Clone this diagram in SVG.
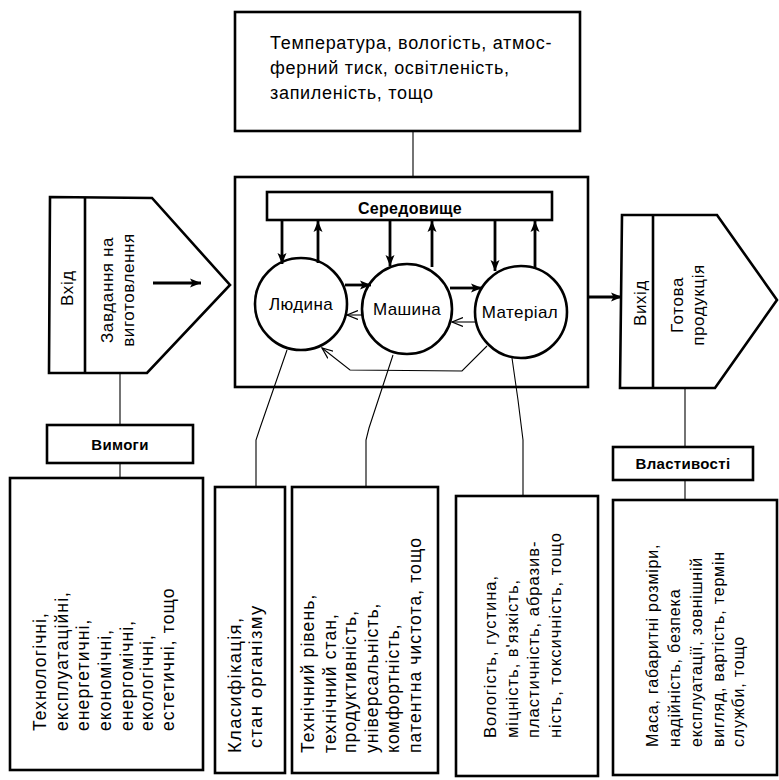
<svg xmlns="http://www.w3.org/2000/svg" width="779" height="780" viewBox="0 0 779 780">
<defs>
<marker id="ah" markerUnits="userSpaceOnUse" markerWidth="12" markerHeight="10" refX="11" refY="5" orient="auto">
<path d="M0,0.5 L11,5 L0,9.5 L2.5,5 Z" fill="#000"/>
</marker>
<marker id="av" markerUnits="userSpaceOnUse" markerWidth="12" markerHeight="10" refX="11" refY="5" orient="auto">
<path d="M0,0.5 L11,5 L0,9.5" fill="none" stroke="#000" stroke-width="1.2"/>
</marker>
</defs>
<style>
.box{fill:#fff;stroke:#000;stroke-width:2.6}
.frame{fill:none;stroke:#000;stroke-width:2.6}
.thick{fill:none;stroke:#000;stroke-width:2.6}
.thin{fill:none;stroke:#000;stroke-width:1.1}
.bold{fill:none;stroke:#000;stroke-width:2.8}
text{font-family:"Liberation Sans",Arial,sans-serif;fill:#000}
.t{font-size:18px;letter-spacing:0.7px}
.c{font-size:17px;letter-spacing:0.4px;text-anchor:middle}
.v{font-size:17.5px;letter-spacing:1.1px}
.vk{font-size:18.5px;letter-spacing:1.3px}
.vs{font-size:16.5px;letter-spacing:1px}
.vx{font-size:16px;letter-spacing:0.8px}
.vm{font-size:17px;letter-spacing:0.6px;text-anchor:middle}
.lbl{font-size:15px;font-weight:bold;text-anchor:middle;letter-spacing:0.3px}
</style>
<rect width="779" height="780" fill="#fff"/>

<g id="environment-top">
<rect class="box" x="235" y="12" width="345" height="119"/>
<text class="t" x="270" y="49">Температура, вологість, атмос-</text>
<text class="t" x="270" y="74">ферний тиск, освітленість,</text>
<text class="t" x="270" y="99">запиленість, тощо</text>
</g>

<g id="system-frame">
<rect class="frame" x="235" y="177" width="353" height="210"/>
</g>

<g id="seredovyshche">
<rect class="box" x="267" y="192" width="285" height="28"/>
<text class="lbl" x="410" y="214" style="font-size:16px">Середовище</text>
</g>

<g id="lyudyna">
<circle class="box" cx="301" cy="304" r="46"/>
<text class="c" x="301" y="310">Людина</text>
</g>
<g id="mashyna">
<circle class="box" cx="407" cy="309" r="45"/>
<text class="c" x="407" y="315">Машина</text>
</g>
<g id="material">
<circle class="box" cx="521" cy="312" r="46"/>
<text class="c" x="520" y="318">Матеріал</text>
</g>

<g id="vhid">
<path class="box" d="M50,197 L152,198 L230,285 L147,373 L49,373 Z"/>
<line class="thick" x1="85" y1="197" x2="85" y2="373"/>
<text class="vm" transform="translate(73,288) rotate(-90)">Вхід</text>
<text class="vm" transform="translate(113,290) rotate(-90)">Завдання на</text>
<text class="vm" transform="translate(134,290) rotate(-90)">виготовлення</text>
</g>

<g id="vyhid">
<path class="box" d="M622,215 L717,215 L777,300 L715,388 L620,388 Z"/>
<line class="thick" x1="653" y1="215" x2="653" y2="388"/>
<text class="vm" transform="translate(646,303) rotate(-90)">Вихід</text>
<text class="vm" transform="translate(683,305) rotate(-90)">Готова</text>
<text class="vm" transform="translate(704,305) rotate(-90)">продукція</text>
</g>

<g id="vymogy">
<rect class="box" x="47" y="425" width="146" height="38"/>
<text class="lbl" x="120" y="450">Вимоги</text>
</g>

<g id="vymogy-list">
<rect class="box" x="10" y="478" width="193" height="292"/>
<text class="v" transform="translate(46,731) rotate(-90)">Технологічні,</text>
<text class="v" transform="translate(68,731) rotate(-90)">експлуатаційні,</text>
<text class="v" transform="translate(89,731) rotate(-90)">енергетичні,</text>
<text class="v" transform="translate(111,731) rotate(-90)">економічні,</text>
<text class="v" transform="translate(133,731) rotate(-90)">енергомічні,</text>
<text class="v" transform="translate(153,731) rotate(-90)">екологічні,</text>
<text class="v" transform="translate(174,731) rotate(-90)">естетичні, тощо</text>
</g>

<g id="lyudyna-list">
<rect class="box" x="215" y="487" width="70" height="286"/>
<text class="vk" transform="translate(241,753) rotate(-90)">Класифікація,</text>
<text class="vk" transform="translate(262,748) rotate(-90)">стан організму</text>
</g>

<g id="mashyna-list">
<rect class="box" x="292" y="487" width="146" height="286"/>
<text class="v" transform="translate(314,753) rotate(-90)">Технічний рівень,</text>
<text class="v" transform="translate(336,753) rotate(-90)">технічний стан,</text>
<text class="v" transform="translate(356,753) rotate(-90)">продуктивність,</text>
<text class="v" transform="translate(378,753) rotate(-90)">універсальність,</text>
<text class="v" transform="translate(399,753) rotate(-90)">комфортність,</text>
<text class="v" transform="translate(421,753) rotate(-90)">патентна чистота, тощо</text>
</g>

<g id="material-list">
<rect class="box" x="456" y="496" width="142" height="280"/>
<text class="vs" transform="translate(496,738) rotate(-90)">Вологість, густина,</text>
<text class="vs" transform="translate(518,738) rotate(-90)">міцність, в'язкість,</text>
<text class="vs" transform="translate(539,738) rotate(-90)">пластичність, абразив-</text>
<text class="vs" transform="translate(561,738) rotate(-90)">ність, токсичність, тощо</text>
</g>

<g id="vlastyvosti">
<rect class="box" x="613" y="447" width="140" height="33"/>
<text class="lbl" x="683" y="469">Властивості</text>
</g>

<g id="vlastyvosti-list">
<rect class="box" x="613" y="500" width="164" height="275"/>
<text class="vx" transform="translate(658,747) rotate(-90)">Маса, габаритні розміри,</text>
<text class="vx" transform="translate(680,747) rotate(-90)">надійність, безпека</text>
<text class="vx" transform="translate(702,747) rotate(-90)">експлуатації, зовнішній</text>
<text class="vx" transform="translate(724,747) rotate(-90)">вигляд, вартість, термін</text>
<text class="vx" transform="translate(744,747) rotate(-90)">служби, тощо</text>
</g>

<g id="connectors">
<line class="thin" x1="413" y1="131" x2="413" y2="177"/>
<line class="thin" x1="120" y1="374" x2="120" y2="424"/>
<line class="thin" x1="120" y1="464" x2="120" y2="477"/>
<line class="thin" x1="685" y1="389" x2="685" y2="446"/>
<line class="thin" x1="685" y1="481" x2="685" y2="499"/>
<polyline class="thin" points="287,350 260,428 256,440 256,486"/>
<polyline class="thin" points="393,355 369,428 366,440 366,486"/>
<polyline class="thin" points="512,358 518,400 523,440 523,495"/>
<line class="bold" x1="153" y1="283" x2="201" y2="283" marker-end="url(#ah)"/>
<line class="bold" x1="589" y1="297" x2="622" y2="297" marker-end="url(#ah)"/>
<line class="bold" x1="282" y1="221" x2="282" y2="264" marker-end="url(#ah)"/>
<line class="bold" x1="318" y1="263" x2="318" y2="221" marker-end="url(#ah)"/>
<line class="bold" x1="390" y1="221" x2="390" y2="266" marker-end="url(#ah)"/>
<line class="bold" x1="432" y1="267" x2="432" y2="221" marker-end="url(#ah)"/>
<line class="bold" x1="495" y1="221" x2="495" y2="271" marker-end="url(#ah)"/>
<line class="bold" x1="535" y1="269" x2="535" y2="221" marker-end="url(#ah)"/>
<line class="bold" x1="345" y1="285" x2="371" y2="285" marker-end="url(#ah)"/>
<line class="bold" x1="450" y1="288" x2="482" y2="288" marker-end="url(#ah)"/>
<line class="thin" x1="363" y1="315" x2="347" y2="315" marker-end="url(#av)"/>
<line class="thin" x1="477" y1="322" x2="452" y2="322" marker-end="url(#av)"/>
<polyline class="thin" points="487,346 462,371 350,370 322,348" marker-end="url(#av)"/>
</g>
</svg>
